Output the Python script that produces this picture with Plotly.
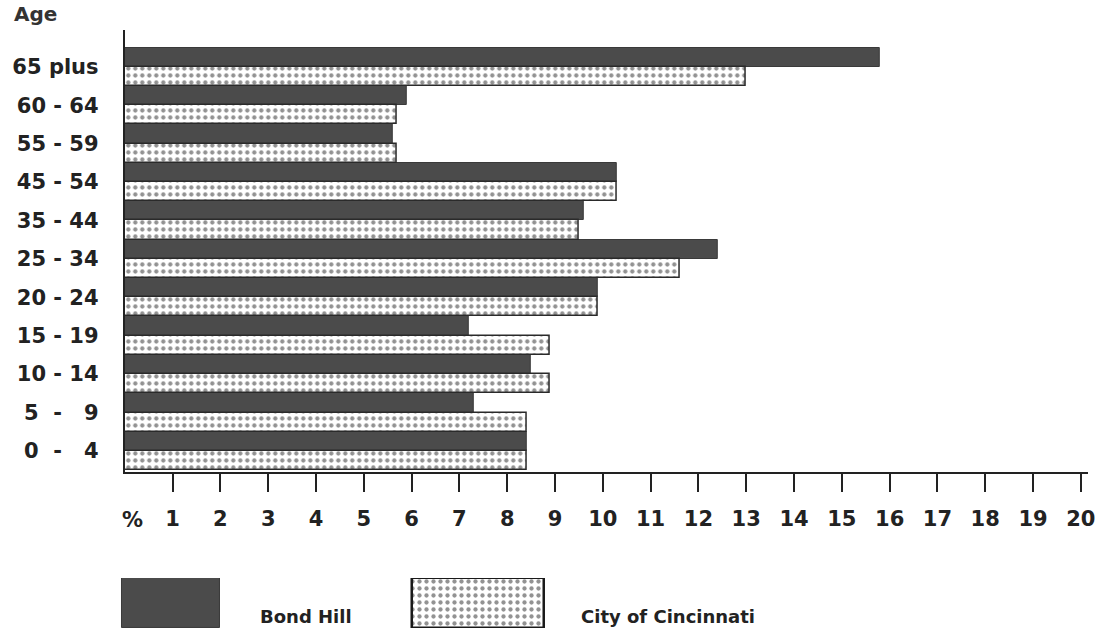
import plotly.graph_objects as go

# Age distribution, Bond Hill vs. City of Cincinnati (percent of population)
ages = ["65 plus", "60 - 64", "55 - 59", "45 - 54", "35 - 44", "25 - 34",
        "20 - 24", "15 - 19", "10 - 14", "5\u00a0\u00a0-\u00a0\u00a0\u00a09", "0\u00a0\u00a0-\u00a0\u00a0\u00a04"]
bond_hill = [15.8, 5.9, 5.6, 10.3, 9.6, 12.4, 9.9, 7.2, 8.5, 7.3, 8.4]
cincinnati = [13.0, 5.7, 5.7, 10.3, 9.5, 11.6, 9.9, 8.9, 8.9, 8.4, 8.4]
x_ticks = list(range(1, 21))
series_names = ["Bond Hill", "City of Cincinnati"]

DARK = "#4b4b4b"
INK = "#222222"
TICK_FONT = dict(family="DejaVu Sans", size=21, color=INK, weight="bold")
DOTS = dict(shape=".", fgcolor="#262626", bgcolor="white", size=7, solidity=0.3)

fig = go.Figure()

fig.add_trace(go.Bar(
    y=ages, x=bond_hill, orientation="h", name=series_names[0],
    marker=dict(color=DARK, line=dict(color="#3a3a3a", width=1)),
    showlegend=False,
))
fig.add_trace(go.Bar(
    y=ages, x=cincinnati, orientation="h", name=series_names[1],
    marker=dict(color="white", line=dict(color="#2a2a2a", width=1.5), pattern=DOTS),
    showlegend=False,
))

# Key swatches on a hidden axis below the chart
fig.add_trace(go.Bar(
    x=[series_names[0]], y=[1], xaxis="x2", yaxis="y2", width=[0.32],
    marker=dict(color=DARK, line=dict(color="#3a3a3a", width=1)),
    showlegend=False, hoverinfo="skip",
))
fig.add_trace(go.Bar(
    x=[series_names[1]], y=[1], xaxis="x2", yaxis="y2", width=[0.43],
    marker=dict(color="white", line=dict(color="#1a1a1a", width=2.5), pattern=DOTS),
    showlegend=False, hoverinfo="skip",
))

fig.update_layout(
    width=1100, height=635,
    margin=dict(l=10, r=10, t=30, b=5),
    paper_bgcolor="white", plot_bgcolor="white",
    barmode="group", bargap=0, bargroupgap=0,
    showlegend=False,
    xaxis=dict(
        domain=[0.10648, 1], range=[0, 20.15],
        tickvals=x_ticks, ticktext=[str(v) for v in x_ticks],
        ticks="outside", ticklen=18, tickwidth=2, tickcolor=INK,
        showline=True, linecolor=INK, linewidth=2,
        showgrid=False, zeroline=False,
        tickfont=TICK_FONT, ticklabelstandoff=9,
        anchor="y",
    ),
    yaxis=dict(
        domain=[0.2633, 1], type="category",
        range=[10.55, -0.96],
        showline=True, linecolor=INK, linewidth=2,
        showgrid=False, zeroline=False, ticks="",
        tickfont=TICK_FONT, ticklabelstandoff=20,
        anchor="x",
    ),
    xaxis2=dict(domain=[0.00648, 0.5769], range=[-0.5, 1.5], visible=False,
                anchor="y2", type="category"),
    yaxis2=dict(domain=[0.0033, 0.0867], range=[0, 1], visible=False,
                anchor="x2"),
    annotations=[
        dict(text="Age", xref="paper", yref="paper", x=0.0019, y=1.027,
             xanchor="left", yanchor="middle", showarrow=False,
             font=dict(family="DejaVu Sans", size=20, color="#333333", weight="bold")),
        dict(text="%", xref="x", yref="paper", x=0.17, y=0.1833,
             xanchor="center", yanchor="middle", showarrow=False,
             font=TICK_FONT),
        dict(text=series_names[0], xref="paper", yref="paper", x=0.2296, y=0.0217,
             xanchor="left", yanchor="middle", showarrow=False,
             font=dict(family="DejaVu Sans", size=18, color=INK, weight="bold")),
        dict(text=series_names[1], xref="paper", yref="paper", x=0.5278, y=0.0217,
             xanchor="left", yanchor="middle", showarrow=False,
             font=dict(family="DejaVu Sans", size=18, color=INK, weight="bold")),
    ],
)

fig.write_html("out.html")
